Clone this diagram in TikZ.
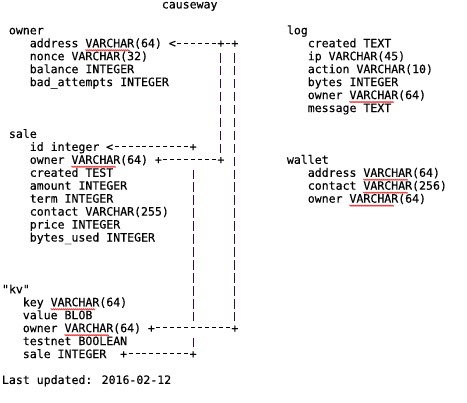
\documentclass[tikz,border=0pt]{standalone}
\usepackage{fontspec}
\newfontfamily\monofont[FakeBold=0.3]{DejaVu Sans Mono}
\usetikzlibrary{positioning,decorations.pathmorphing}
\definecolor{barcolor}{RGB}{55,10,65}
\definecolor{spellred}{RGB}{230,45,45}

\begin{document}
\begin{tikzpicture}[x=6.95pt,y=-12.95pt,
    every node/.style={inner sep=0pt,outer sep=0pt,font=\monofont\fontsize{11.55}{12.95}\selectfont},
    tabname/.style={anchor=base west,text height=9.5pt,text depth=3.45pt},
    field/.style={tabname,anchor=north west},
    jn/.style={anchor=base west,text height=10.9pt,text depth=2.3pt},
    hdash/.style={line width=0.9pt,dash pattern=on 4pt off 2.95pt,dash phase=5.475pt},
    vbar/.style={barcolor,line width=1.1pt,dash pattern=on 9.55pt off 3.4pt,dash phase=9.55pt},
    spell/.style={spellred,line width=0.75pt,decorate,decoration={zigzag,amplitude=0.6pt,segment length=2pt}}]
    \useasboundingbox (-0.2878,-0.6486) rectangle (66.906,30.394);

    \node[tabname] (title) at (23,0) {causeway};

    % owner
    \node[tabname] (owner) at (1,2) {owner};
    \node[field] (ownerAddress) [below right=0pt and 20.85pt of owner.south west] {address VARCHAR(64)};
    \node[field] (ownerNonce) [below right=0pt of ownerAddress.south west] {nonce VARCHAR(32)};
    \node[field] (ownerBalance) [below right=0pt of ownerNonce.south west] {balance INTEGER};
    \node[field] (ownerBad) [below right=0pt of ownerBalance.south west] {bad\_attempts INTEGER};

    % sale
    \node[tabname] (sale) at (1,10) {sale};
    \node[field] (saleId) [below right=0pt and 20.85pt of sale.south west] {id integer};
    \node[field] (saleOwner) [below right=0pt of saleId.south west] {owner VARCHAR(64)};
    \node[field] (saleCreated) [below right=0pt of saleOwner.south west] {created TEST};
    \node[field] (saleAmount) [below right=0pt of saleCreated.south west] {amount INTEGER};
    \node[field] (saleTerm) [below right=0pt of saleAmount.south west] {term INTEGER};
    \node[field] (saleContact) [below right=0pt of saleTerm.south west] {contact VARCHAR(255)};
    \node[field] (salePrice) [below right=0pt of saleContact.south west] {price INTEGER};
    \node[field] (saleBytes) [below right=0pt of salePrice.south west] {bytes\_used INTEGER};

    % kv
    \node[tabname] (kv) at (0,22) {"kv"};
    \node[field] (kvKey) [below right=0pt and 20.85pt of kv.south west] {key VARCHAR(64)};
    \node[field] (kvValue) [below right=0pt of kvKey.south west] {value BLOB};
    \node[field] (kvOwner) [below right=0pt of kvValue.south west] {owner VARCHAR(64)};
    \node[field] (kvTestnet) [below right=0pt of kvOwner.south west] {testnet BOOLEAN};
    \node[field] (kvSale) [below right=0pt of kvTestnet.south west] {sale INTEGER};

    % log
    \node[tabname] (log) at (41,2) {log};
    \node[field] (logCreated) [below right=0pt and 20.85pt of log.south west] {created TEXT};
    \node[field] (logIp) [below right=0pt of logCreated.south west] {ip VARCHAR(45)};
    \node[field] (logAction) [below right=0pt of logIp.south west] {action VARCHAR(10)};
    \node[field] (logBytes) [below right=0pt of logAction.south west] {bytes INTEGER};
    \node[field] (logOwner) [below right=0pt of logBytes.south west] {owner VARCHAR(64)};
    \node[field] (logMessage) [below right=0pt of logOwner.south west] {message TEXT};

    % wallet
    \node[tabname] (wallet) at (41,12) {wallet};
    \node[field] (walletAddress) [below right=0pt and 20.85pt of wallet.south west] {address VARCHAR(64)};
    \node[field] (walletContact) [below right=0pt of walletAddress.south west] {contact VARCHAR(256)};
    \node[field] (walletOwner) [below right=0pt of walletContact.south west] {owner VARCHAR(64)};

    \node[tabname] (updated) at (0,29) {Last updated: 2016-02-12};

    % junctions
    \node[jn] (ownerTip) at (24,3) {<};
    \node[jn] (ownerJa) at (31,3) {+};
    \node[jn] (ownerJb) at (33,3) {+};
    \node[jn] (saleTip) at (15,11) {<};
    \node[jn] (saleJa) at (27,11) {+};
    \node[jn] (saleOwnerJa) at (22,12) {+};
    \node[jn] (saleOwnerJb) at (31,12) {+};
    \node[jn] (kvOwnerJa) at (21,25) {+};
    \node[jn] (kvOwnerJb) at (33,25) {+};
    \node[jn] (kvSaleJa) at (17,27) {+};
    \node[jn] (kvSaleJb) at (27,27) {+};

    \draw[hdash] (ownerJa.west) -- (ownerTip.east);
    \draw[hdash] (ownerJb.west) -- (ownerJa.east);
    \draw[hdash] (saleJa.west) -- (saleTip.east);
    \draw[hdash] (saleOwnerJa.east) -- (saleOwnerJb.west);
    \draw[hdash] (kvOwnerJa.east) -- (kvOwnerJb.west);
    \draw[hdash] (kvSaleJa.east) -- (kvSaleJb.west);

    \draw[vbar] (ownerJa.south) -- (saleOwnerJb.north);
    \draw[vbar] (ownerJb.south) -- (kvOwnerJb.north);
    \draw[vbar] ([yshift=-12.95pt]saleJa.south) -- (saleJa |- kvOwnerJa.north);
    \draw[vbar] (saleJa |- kvOwnerJa.south) -- (kvSaleJb.north);

    % spell-check marks
    \foreach \n/\k in {ownerAddress/8,saleOwner/6,kvKey/4,kvOwner/6,logOwner/6,walletAddress/8,walletContact/8,walletOwner/6}
        \draw[spell] ([xshift=\k*6.95pt,yshift=-3pt]\n.base west) -- ++(6.4,0);
\end{tikzpicture}
\end{document}
